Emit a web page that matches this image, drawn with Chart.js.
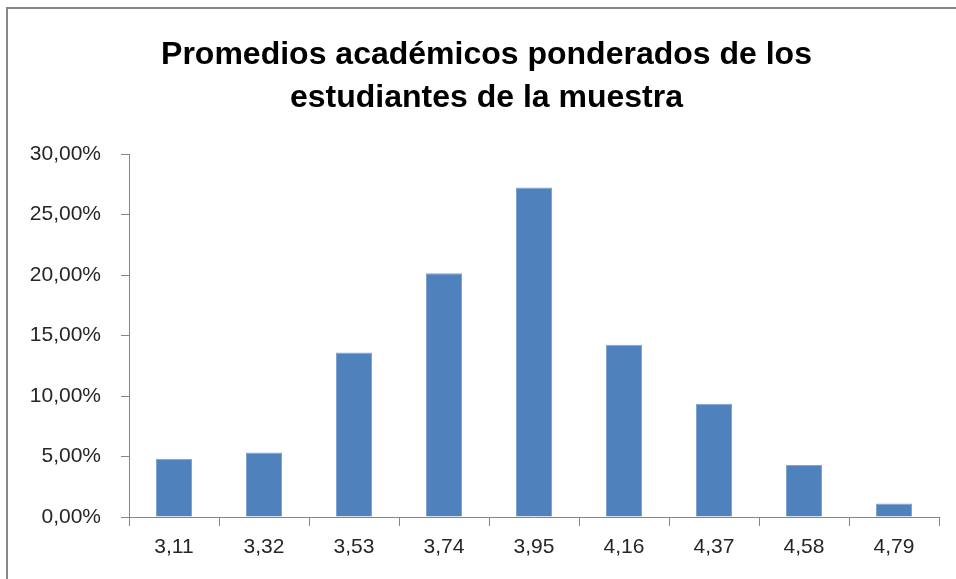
<!DOCTYPE html>
<html>
<head>
<meta charset="utf-8">
<script src="https://cdn.jsdelivr.net/npm/chart.js@4"></script>
<style>
    html, body { margin: 0; padding: 0; background: #fff; }
    #wrap { position: relative; width: 956px; height: 579px; overflow: hidden; }
    #frame {
        position: absolute; left: 6px; top: 7px; width: 1000px; height: 600px;
        border-left: 2px solid #878787; border-top: 2px solid #878787;
    }
    canvas { position: absolute; left: 0; top: 0; }
</style>
</head>
<body>
<div id="wrap">
    <div id="frame"></div>
    <canvas id="histChart" width="956" height="579"></canvas>
</div>
<script>
const titleLines = ['Promedios académicos ponderados de los', 'estudiantes de la muestra'];
const classMarks = ['3,11', '3,32', '3,53', '3,74', '3,95', '4,16', '4,37', '4,58', '4,79'];
const percentages = [4.81, 5.33, 13.59, 20.15, 27.24, 14.23, 9.36, 4.29, 1.12];
const yTicks = [0, 5, 10, 15, 20, 25, 30];

const axisGray = '#868686';
const labelFont = { family: '"Liberation Sans", Arial, sans-serif', size: 21 };

// centre the title on the framed area instead of the padded layout box
const titleShift = {
    id: 'titleShift',
    afterLayout(chart) {
        const t = chart.titleBlock;
        t.left = 17;
        t.right = chart.width;
        t.width = t.right - t.left;
    }
};

const ctx = document.getElementById('histChart').getContext('2d');
const histChart = new Chart(ctx, {
    type: 'bar',
    data: {
        labels: classMarks,
        datasets: [{
            data: percentages,
            backgroundColor: '#4f81bd',
            borderColor: '#7fa3cf',
            borderWidth: 1,
            categoryPercentage: 1,
            barPercentage: 0.4
        }]
    },
    options: {
        responsive: false,
        animation: false,
        layout: { padding: { left: 0, right: 17, top: 0, bottom: 0 } },
        plugins: {
            legend: { display: false },
            tooltip: { enabled: false },
            title: {
                display: true,
                text: titleLines,
                color: '#000',
                font: { family: '"Liberation Sans", Arial, sans-serif', size: 32, weight: 'bold', lineHeight: 1.36 },
                padding: { top: 33, bottom: 34 }
            }
        },
        scales: {
            x: {
                grid: { offset: true, drawOnChartArea: false, drawTicks: true, tickLength: 9, color: axisGray },
                border: { color: axisGray, width: 1 },
                ticks: { color: '#262626', font: labelFont, padding: 9, maxRotation: 0 },
                afterFit: (scale) => { scale.height = 62; }
            },
            y: {
                min: 0,
                max: 30,
                afterBuildTicks: (scale) => { scale.ticks = yTicks.map(v => ({ value: v })); },
                grid: { drawOnChartArea: false, drawTicks: true, tickLength: 8, color: axisGray },
                border: { color: axisGray, width: 1 },
                ticks: {
                    color: '#262626',
                    font: labelFont,
                    padding: 20,
                    callback: (v) => v.toFixed(2).replace('.', ',') + '%'
                },
                afterFit: (scale) => { scale.width = 129; }
            }
        }
    },
    plugins: [titleShift]
});
</script>
</body>
</html>
